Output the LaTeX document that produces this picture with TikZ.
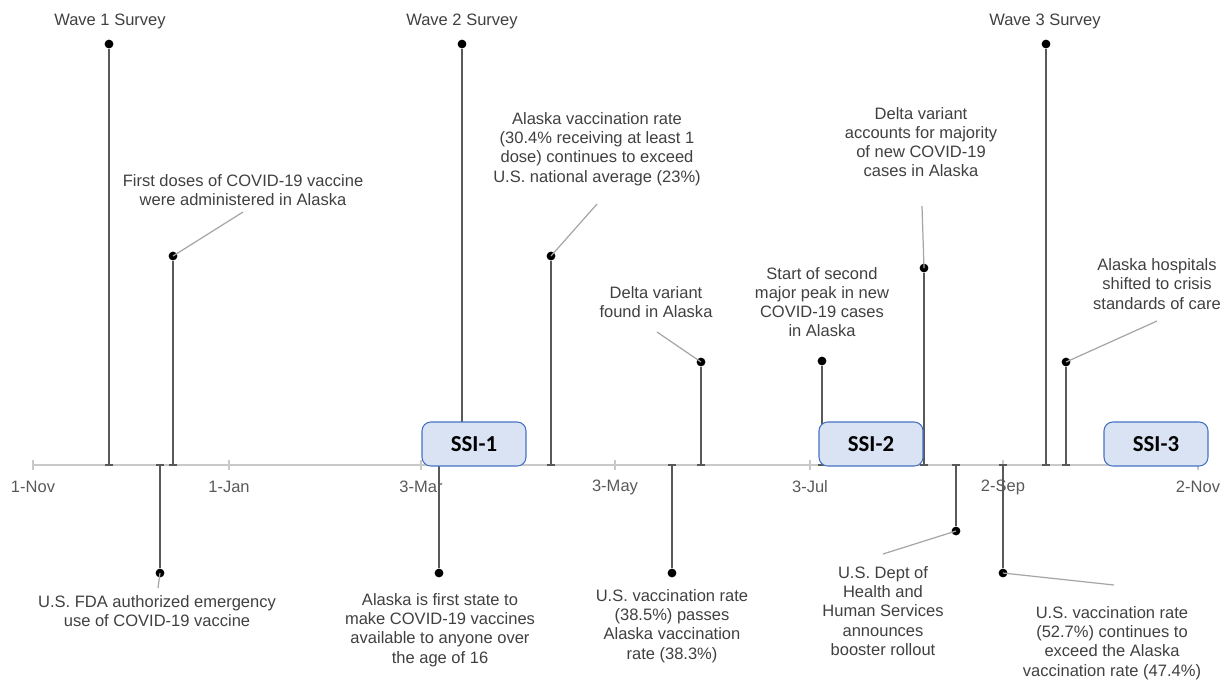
\documentclass[tikz,border=0pt]{standalone}
\usepackage{fontspec}
\setmainfont{Liberation Sans}
\newfontfamily\ssifont{Carlito}
\usetikzlibrary{positioning,calc}
\definecolor{axisgray}{HTML}{C9C9C9}
\definecolor{stemgray}{HTML}{595959}
\definecolor{leadgray}{HTML}{A6A6A6}
\definecolor{txtgray}{HTML}{404040}
\definecolor{ssifill}{HTML}{DAE3F3}
\definecolor{ssiline}{HTML}{4472C4}
\tikzset{
  axis/.style={draw=axisgray,line width=1.1pt},
  stem/.style={draw=stemgray,line width=1.1pt},
  lead/.style={draw=leadgray,line width=0.7pt},
  dot/.style={circle,fill=black,inner sep=0pt,minimum size=5pt},
  evtext/.style={align=center,text=txtgray,inner sep=0pt,font=\fontsize{9.4}{10.9}\selectfont},
  datetext/.style={text=stemgray,inner sep=0pt,font=\fontsize{9.4}{10.9}\selectfont},
  ssibox/.style={draw=ssiline,fill=ssifill,rounded corners=5pt,line width=0.6pt,
    minimum width=2.08cm,minimum height=0.88cm,inner sep=0pt,
    font=\ssifont\bfseries\fontsize{13}{15}\selectfont},
}

\begin{document}
\begin{tikzpicture}[x=0.02cm,y=-0.02cm]
  \useasboundingbox (0,0) rectangle (1228,681);

  % time axis with date ticks
  \coordinate (a0) at (33,465);
  \coordinate (a1) at (1198,465);
  \draw[axis] (a0) -- (a1);
  \foreach \dlab/\x in {1-Nov/33,1-Jan/229,3-Mar/421,3-May/615,3-Jul/810,2-Sep/1003,2-Nov/1198} {
    \coordinate (t\x) at (\x,465);
    \draw[axis] ($(t\x)+(0,-5)$) -- ($(t\x)+(0,5)$);
    \node[datetext] (n\x) at (\x,487) {\dlab};
  }

  % Wave 1 survey
  \coordinate (b1) at (109,465);
  \node[dot] (d1) at (109,44) {};
  \node[evtext] (l1) at (110,21) {Wave 1 Survey};
  \draw[stem] (d1) -- (b1) ++(-4,0) -- ++(8,0);

  % first doses
  \coordinate (b2) at (173,465);
  \node[dot] (d2) at (173,256) {};
  \node[evtext] (l2) at (243,190) {First doses of COVID-19 vaccine\\were administered in Alaska};
  \coordinate (e2) at (243,212);
  \draw[stem] (d2) -- (b2) ++(-4,0) -- ++(8,0);
  \draw[lead] (d2.center) -- (e2);

  % Wave 2 survey
  \coordinate (b3) at (462,465);
  \node[dot] (d3) at (462,44) {};
  \node[evtext] (l3) at (462,21) {Wave 2 Survey};
  \draw[stem] (d3) -- (b3) ++(-4,0) -- ++(8,0);

  % Alaska rate above national average
  \coordinate (b4) at (551,465);
  \node[dot] (d4) at (551,256) {};
  \node[evtext] (l4) at (597,149) {Alaska vaccination rate\\(30.4\% receiving at least 1\\dose) continues to exceed\\U.S. national average (23\%)};
  \coordinate (e4) at (597,204);
  \draw[stem] (d4) -- (b4) ++(-4,0) -- ++(8,0);
  \draw[lead] (d4.center) -- (e4);

  % Delta found
  \coordinate (b5) at (701,465);
  \node[dot] (d5) at (701,362) {};
  \node[evtext] (l5) at (656,302) {Delta variant\\found in Alaska};
  \coordinate (e5) at (657,332);
  \draw[stem] (d5) -- (b5) ++(-4,0) -- ++(8,0);
  \draw[lead] (d5.center) -- (e5);

  % second peak
  \coordinate (b6) at (822,465);
  \node[dot] (d6) at (822,361) {};
  \node[evtext] (l6) at (822,302) {Start of second\\major peak in new\\COVID-19 cases\\in Alaska};
  \draw[stem] (d6) -- (b6) ++(-4,0) -- ++(8,0);

  % Delta majority
  \coordinate (b7) at (924,465);
  \node[dot] (d7) at (924,268) {};
  \node[evtext] (l7) at (921,142) {Delta variant\\accounts for majority\\of new COVID-19\\cases in Alaska};
  \coordinate (e7) at (922,206);
  \draw[stem] (d7) -- (b7) ++(-4,0) -- ++(8,0);
  \draw[lead] (d7.center) -- (e7);

  % Wave 3 survey
  \coordinate (b8) at (1046,465);
  \node[dot] (d8) at (1046,44) {};
  \node[evtext] (l8) at (1045,21) {Wave 3 Survey};
  \draw[stem] (d8) -- (b8) ++(-4,0) -- ++(8,0);

  % crisis standards
  \coordinate (b9) at (1066,465);
  \node[dot] (d9) at (1066,362) {};
  \node[evtext] (l9) at (1157,284) {Alaska hospitals\\shifted to crisis\\standards of care};
  \coordinate (e9) at (1157,321);
  \draw[stem] (d9) -- (b9) ++(-4,0) -- ++(8,0);
  \draw[lead] (d9.center) -- (e9);

  % FDA authorization
  \coordinate (b10) at (160,465);
  \node[dot] (d10) at (160,573) {};
  \node[evtext] (l10) at (157,611) {U.S. FDA authorized emergency\\use of COVID-19 vaccine};
  \coordinate (e10) at (158,588);
  \draw[stem] (d10) -- (b10) ++(-4,0) -- ++(8,0);
  \draw[lead] (d10.center) -- (e10);

  % open to over 16
  \coordinate (b11) at (439,465);
  \node[dot] (d11) at (439,573) {};
  \node[evtext] (l11) at (440,630) {Alaska is first state to\\make COVID-19 vaccines\\available to anyone over\\the age of 16};
  \draw[stem] (d11) -- (b11) ++(-4,0) -- ++(8,0);

  % U.S. passes Alaska
  \coordinate (b12) at (672,465);
  \node[dot] (d12) at (672,573) {};
  \node[evtext] (l12) at (672,626) {U.S. vaccination rate\\(38.5\%) passes\\Alaska vaccination\\rate (38.3\%)};
  \draw[stem] (d12) -- (b12) ++(-4,0) -- ++(8,0);

  % booster rollout
  \coordinate (b13) at (956,465);
  \node[dot] (d13) at (956,531) {};
  \node[evtext] (l13) at (883,611) {U.S. Dept of\\Health and\\Human Services\\announces\\booster rollout};
  \coordinate (e13) at (883,554);
  \draw[stem] (d13) -- (b13) ++(-4,0) -- ++(8,0);
  \draw[lead] (d13.center) -- (e13);

  % U.S. still ahead
  \coordinate (b14) at (1003,465);
  \node[dot] (d14) at (1003,573) {};
  \node[evtext] (l14) at (1112,643) {U.S. vaccination rate\\(52.7\%) continues to\\exceed the Alaska\\vaccination rate (47.4\%)};
  \coordinate (e14) at (1114,585);
  \draw[stem] (d14) -- (b14) ++(-4,0) -- ++(8,0);
  \draw[lead] (d14.center) -- (e14);

  % SSI boxes
  \node[ssibox] (s1) at (474,444) {SSI-1};
  \node[ssibox] (s2) at (871,444) {SSI-2};
  \node[ssibox] (s3) at (1156,444) {SSI-3};
\end{tikzpicture}
\end{document}
